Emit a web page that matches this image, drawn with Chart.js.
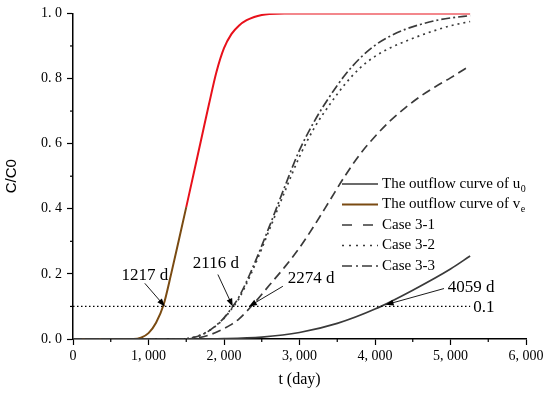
<!DOCTYPE html>
<html>
<head>
<meta charset="utf-8">
<script src="https://cdn.jsdelivr.net/npm/chart.js@4.4.0/dist/chart.umd.min.js"></script>
<style>
html, body { margin: 0; padding: 0; background: #fff; }
#canvas-holder { width: 550px; height: 394px; position: relative; }
</style>
</head>
<body>
<div id="canvas-holder"><canvas id="myChart"></canvas></div>
<script>

// DATA (t in days, C/C0)

const tVe  = [0, 800, 900, 1000, 1100, 1200, 1300, 1400, 1500, 1600, 1700, 1800, 1900, 2000, 2100, 2200, 2300, 2400, 2500, 2600, 2800, 3000, 4000, 5260];
const cVe  = [0, 0, 0.004, 0.018, 0.05, 0.105, 0.2, 0.302, 0.405, 0.51, 0.615, 0.72, 0.82, 0.893, 0.937, 0.963, 0.979, 0.989, 0.995, 0.998, 1, 1, 1, 1];

const tU0  = [0, 1500, 2000, 2500, 3000, 3500, 4000, 4500, 5000, 5260];
const cU0  = [0, 0, 0.001, 0.006, 0.02, 0.048, 0.092, 0.15, 0.215, 0.255];

const tCase = [0, 1400, 1600, 1800, 2000, 2100, 2200, 2400, 2600, 2800, 3000, 3200, 3400, 3600, 3800, 4000, 4200, 4400, 4600, 4800, 5000, 5260];
const case31 = [0, 0, 0.002, 0.012, 0.032, 0.045, 0.062, 0.11, 0.165, 0.22, 0.28, 0.35, 0.425, 0.5, 0.567, 0.622, 0.67, 0.71, 0.745, 0.775, 0.802, 0.84];
const case32 = [0, 0, 0.005, 0.025, 0.063, 0.092, 0.125, 0.222, 0.335, 0.45, 0.56, 0.65, 0.72, 0.782, 0.832, 0.868, 0.894, 0.914, 0.932, 0.948, 0.962, 0.975];
const case33 = [0, 0, 0.005, 0.025, 0.065, 0.095, 0.13, 0.23, 0.345, 0.465, 0.58, 0.67, 0.745, 0.81, 0.862, 0.902, 0.93, 0.951, 0.966, 0.978, 0.986, 0.993];

// the 0.1 reference line
const tRef = [0, 5260];
const cRef = [0.1, 0.1];

const xTicks = [0, 1000, 2000, 3000, 4000, 5000, 6000];
const yTicks = [0, 0.2, 0.4, 0.6, 0.8, 1.0];

const GRAY = "#3a3a3a";
const RED = "#e8111b";
const BROWN = "#7a4b12";


function pts(t, c){
    let out = [];
    for(i = 0; i < t.length; i++){
        out.push({x: t[i], y: c[i]});
    }
    return out;
}


// minor ticks + arrows + texts + legend, all drawn after the lines

const extras = {
    id: "extras",
    afterDraw(chart){
        const ctx = chart.ctx;
        const xs = chart.scales.x;
        const ys = chart.scales.y;
        const area = chart.chartArea;

        ctx.save();
        ctx.strokeStyle = "#000";
        ctx.lineWidth = 1.2;

        //minor ticks
        for(let t = 500; t < 6000; t += 1000){
            let px = xs.getPixelForValue(t);
            ctx.beginPath();
            ctx.moveTo(px, area.bottom);
            ctx.lineTo(px, area.bottom + 3);
            ctx.stroke();
        }
        for(let v = 0.1; v < 1; v += 0.2){
            let py = ys.getPixelForValue(v);
            ctx.beginPath();
            ctx.moveTo(area.left, py);
            ctx.lineTo(area.left - 3, py);
            ctx.stroke();
        }

        // notes with arrows
        const notes = [
            {text: "1217 d", tx: 951,  ty: 0.195, ax: 951,  ay: 0.171, hx: 1217, hy: 0.1},
            {text: "2116 d", tx: 1892, ty: 0.232, ax: 1919, ay: 0.198, hx: 2116, hy: 0.1},
            {text: "2274 d", tx: 3154, ty: 0.186, ax: 2780, ay: 0.162, hx: 2330, hy: 0.1},
            {text: "4059 d", tx: 5272, ty: 0.159, ax: 4914, ay: 0.155, hx: 4140, hy: 0.105}
        ];

        ctx.fillStyle = "#000";
        ctx.font = "17px 'Liberation Serif'";
        ctx.textAlign = "center";
        ctx.textBaseline = "middle";

        notes.forEach(n => {
            ctx.fillText(n.text, xs.getPixelForValue(n.tx), ys.getPixelForValue(n.ty));

            let x1 = xs.getPixelForValue(n.ax), y1 = ys.getPixelForValue(n.ay);
            let x2 = xs.getPixelForValue(n.hx), y2 = ys.getPixelForValue(n.hy);
            let ang = Math.atan2(y2 - y1, x2 - x1);

            ctx.lineWidth = 0.9;
            ctx.beginPath();
            ctx.moveTo(x1, y1);
            ctx.lineTo(x2 - 6 * Math.cos(ang), y2 - 6 * Math.sin(ang));
            ctx.stroke();

            ctx.beginPath();
            ctx.moveTo(x2, y2);
            ctx.lineTo(x2 - 8 * Math.cos(ang) + 3 * Math.sin(ang), y2 - 8 * Math.sin(ang) - 3 * Math.cos(ang));
            ctx.lineTo(x2 - 8 * Math.cos(ang) - 3 * Math.sin(ang), y2 - 8 * Math.sin(ang) + 3 * Math.cos(ang));
            ctx.closePath();
            ctx.fill();
        });

        ctx.textAlign = "left";
        ctx.fillText("0.1", xs.getPixelForValue(tRef[1]) + 3, ys.getPixelForValue(0.1) + 1);

        //LEGEND (chart.js legend can't do subscripts)
        const items = [
            {label: "The outflow curve of u", sub: "0", color: GRAY, dash: [], w: 1.6},
            {label: "The outflow curve of v", sub: "e", color: BROWN, dash: [], w: 2},
            {label: "Case 3-1", sub: "", color: GRAY, dash: [10, 11], w: 1.6},
            {label: "Case 3-2", sub: "", color: GRAY, dash: [2, 5], w: 1.6},
            {label: "Case 3-3", sub: "", color: GRAY, dash: [10, 4, 2, 4], w: 1.6}
        ];

        let lx = 342, ly = 184;
        items.forEach(it => {
            ctx.strokeStyle = it.color;
            ctx.lineWidth = it.w;
            ctx.setLineDash(it.dash);
            ctx.beginPath();
            ctx.moveTo(lx, ly);
            ctx.lineTo(lx + 36, ly);
            ctx.stroke();
            ctx.setLineDash([]);

            ctx.font = "15px 'Liberation Serif'";
            ctx.fillText(it.label, lx + 40, ly);
            if(it.sub){
                let w = ctx.measureText(it.label).width;
                ctx.font = "10px 'Liberation Serif'";
                ctx.fillText(it.sub, lx + 40 + w + 0.5, ly + 5);
            }
            ly += 20.5;
        });

        ctx.restore();
    }
};


const ctx = document.getElementById("myChart").getContext("2d");

const myChart = new Chart(ctx, {
    type: "line",
    data: {
        datasets: [
            {
                label: "0.1",
                data: pts(tRef, cRef),
                borderColor: "#000",
                borderWidth: 1.2,
                borderDash: [1.5, 2.5]
            },
            {
                label: "Case 3-1",
                data: pts(tCase, case31),
                borderColor: GRAY,
                borderWidth: 1.7,
                borderDash: [9, 5]
            },
            {
                label: "Case 3-2",
                data: pts(tCase, case32),
                borderColor: GRAY,
                borderWidth: 1.7,
                borderDash: [2, 4]
            },
            {
                label: "Case 3-3",
                data: pts(tCase, case33),
                borderColor: GRAY,
                borderWidth: 1.7,
                borderDash: [9, 3, 2, 3]
            },
            {
                label: "The outflow curve of u0",
                data: pts(tU0, cU0),
                borderColor: GRAY,
                borderWidth: 1.7
            },
            {
                label: "The outflow curve of ve",
                data: pts(tVe, cVe),
                borderColor: RED,
                borderWidth: 2,
                segment: {
                    borderColor: c => c.p1.parsed.y <= 0.42 ? BROWN : RED
                }
            }
        ]
    },
    options: {
        responsive: true,
        maintainAspectRatio: false,
        animation: false,
        layout: { padding: { left: 0, right: 24, top: 11, bottom: 0 } },
        elements: {
            point: { radius: 0 },
            line: { cubicInterpolationMode: "monotone", fill: false }
        },
        plugins: {
            legend: { display: false },
            tooltip: { enabled: false }
        },
        scales: {
            x: {
                type: "linear",
                min: 0,
                max: 6000,
                afterFit(scale){ scale.height = 55; },
                afterBuildTicks(scale){ scale.ticks = xTicks.map(v => ({value: v})); },
                border: { color: "#000", width: 1.5 },
                grid: { drawOnChartArea: false, tickLength: 6, color: "#000", tickWidth: 1.2 },
                ticks: {
                    color: "#000",
                    padding: 3,
                    maxRotation: 0,
                    font: { family: "'Liberation Serif'", size: 14 },
                    callback: v => v.toLocaleString("en-US").replace(",", ", ")
                },
                title: {
                    display: true,
                    text: "t (day)",
                    color: "#000",
                    font: { family: "'Liberation Serif'", size: 16 },
                    padding: { top: 0, bottom: 5 }
                }
            },
            y: {
                min: 0,
                max: 1,
                afterFit(scale){ scale.width = 73; },
                afterBuildTicks(scale){ scale.ticks = yTicks.map(v => ({value: v})); },
                border: { color: "#000", width: 1.5 },
                grid: { drawOnChartArea: false, tickLength: 6, color: "#000", tickWidth: 1.2 },
                ticks: {
                    color: "#000",
                    padding: 5,
                    font: { family: "'Liberation Serif'", size: 14 },
                    callback: v => v.toFixed(1).replace(".", ". ")
                },
                title: {
                    display: true,
                    text: "C/C0",
                    color: "#000",
                    font: { family: "'Liberation Sans'", size: 15 },
                    padding: { top: 3, bottom: 0 }
                }
            }
        }
    },
    plugins: [extras]
});

</script>
</body>
</html>
